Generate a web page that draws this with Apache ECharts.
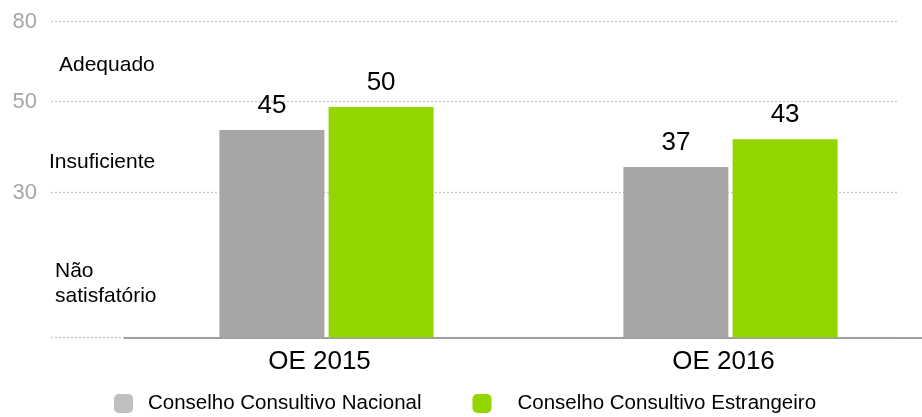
<!DOCTYPE html>
<html>
<head>
<meta charset="utf-8">
<script src="https://cdn.jsdelivr.net/npm/echarts@6/dist/echarts.min.js"></script>
<style>
html,body{margin:0;padding:0;background:#fff;}
#chart{width:922px;height:417px;}
</style>
</head>
<body>
<div id="chart"></div>
<script>
var categories = ['OE 2015', 'OE 2016'];
var seriesNames = ['Conselho Consultivo Nacional', 'Conselho Consultivo Estrangeiro'];
var nacional = [45, 37];
var estrangeiro = [50, 43];
var gridValues = [31.4, 51.2, 68.5];
var gridLabels = ['30', '50', '80'];
var bandLabels = ['Adequado', 'Insuficiente', 'Não\nsatisfatório'];

var FONT = 'Arial, "Liberation Sans", sans-serif';
var YMAX = 68.5;
var labelMap = {};
gridValues.forEach(function (v, i) { labelMap[v] = gridLabels[i]; });

var chart = echarts.init(document.getElementById('chart'));
chart.setOption({
  animation: false,
  textStyle: { fontFamily: FONT },
  grid: [
    { left: 124.5, width: 808, top: 21.7, bottom: 79.5, outerBoundsMode: 'none', containLabel: false },
    { left: 51, right: 24, top: 21.7, bottom: 79.5, outerBoundsMode: 'none', containLabel: false }
  ],
  xAxis: [
    {
      type: 'category', gridIndex: 0, data: categories, offset: 2,
      axisLine: { show: true, lineStyle: { color: '#a0a0a0', width: 2 } },
      axisTick: { show: false },
      axisLabel: { color: '#000', fontSize: 26, fontFamily: FONT, margin: 9, padding: [0, 14, 0, 0] }
    },
    {
      type: 'category', gridIndex: 1, data: [''],
      axisLine: { show: false }, axisTick: { show: false }, axisLabel: { show: false }
    }
  ],
  yAxis: [
    {
      type: 'value', gridIndex: 0, min: 0, max: YMAX,
      axisLine: { show: false }, axisTick: { show: false },
      axisLabel: { show: false }, splitLine: { show: false }
    },
    {
      type: 'value', gridIndex: 1, min: 0, max: YMAX,
      axisLine: { show: false },
      axisTick: { show: false, customValues: [0].concat(gridValues) },
      axisLabel: {
        customValues: gridValues, color: '#a6a6a6', fontSize: 22, fontFamily: FONT, margin: 14,
        formatter: function (v) { return labelMap[v] !== undefined ? labelMap[v] : ''; }
      },
      splitLine: { show: true, lineStyle: { color: '#c4c4c4', width: 1.3, type: [2, 2] } }
    }
  ],
  legend: {
    left: 109, top: 388, itemWidth: 19, itemHeight: 19, itemGap: 51,
    icon: 'roundRect',
    textStyle: { color: '#000', fontSize: 20.5, fontFamily: FONT, padding: [0, 0, 0, 10] },
    data: [
      { name: seriesNames[0], itemStyle: { color: '#bfbfbf' } },
      { name: seriesNames[1], itemStyle: { color: '#93d500' }, textStyle: { padding: [0, 0, 0, 21] } }
    ]
  },
  series: [
    {
      name: seriesNames[0], type: 'bar', xAxisIndex: 0, yAxisIndex: 0,
      data: nacional, barWidth: 105, barGap: '4%',
      itemStyle: { color: '#a6a6a6' },
      label: { show: true, position: 'top', distance: 11, color: '#000', fontSize: 26, fontFamily: FONT }
    },
    {
      name: seriesNames[1], type: 'bar', xAxisIndex: 0, yAxisIndex: 0,
      data: estrangeiro, barWidth: 105, barGap: '4%',
      itemStyle: { color: '#93d500' },
      label: { show: true, position: 'top', distance: 11, color: '#000', fontSize: 26, fontFamily: FONT }
    }
  ],
  graphic: [
    { type: 'text', left: 59, top: 55, style: { text: bandLabels[0], fill: '#000', font: '21px ' + FONT } },
    { type: 'text', left: 49, top: 152, style: { text: bandLabels[1], fill: '#000', font: '21px ' + FONT } },
    { type: 'text', left: 55, top: 259, style: { text: bandLabels[2], fill: '#000', font: '21px ' + FONT, lineHeight: 25 } }
  ]
});
</script>
</body>
</html>
